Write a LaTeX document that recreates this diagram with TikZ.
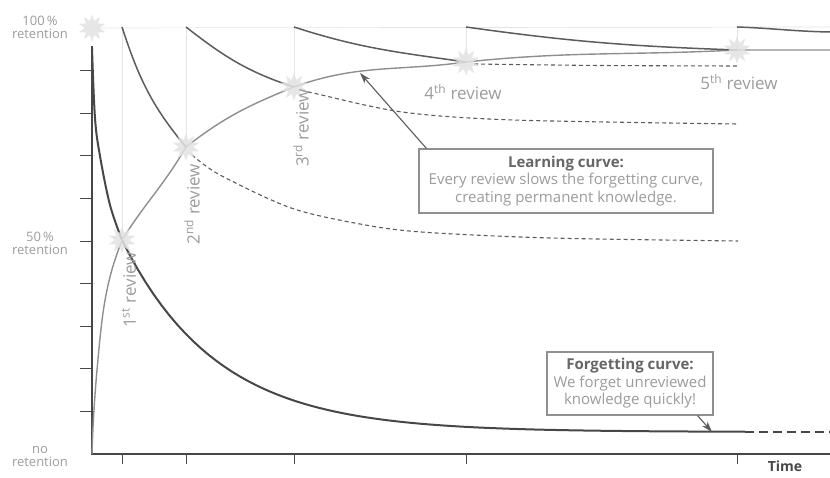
\documentclass[tikz,border=0pt]{standalone}
\usepackage{fontspec}
\setmainfont{Open Sans}
\usetikzlibrary{arrows.meta,positioning,shapes.geometric}
\definecolor{forgetgray}{HTML}{474747}
\definecolor{decaygray}{HTML}{5C5C5C}
\definecolor{learngray}{HTML}{8E8E8E}
\definecolor{guidegray}{HTML}{E4E4E4}
\definecolor{glowgray}{HTML}{E2E2E2}
\definecolor{labelgray}{HTML}{9C9C9C}
\definecolor{titlegray}{HTML}{666666}
\definecolor{boxgray}{HTML}{909090}

\begin{document}
\begin{tikzpicture}[
    x=1pt, y=1pt,
    >={Stealth[length=11pt, width=7pt]},
    glow/.style={star, star points=10, star point ratio=1.9, minimum size=28pt, inner sep=0pt, fill=glowgray, opacity=0.85},
    axis/.style={draw=forgetgray, line width=1.2pt},
    tick/.style={draw=forgetgray, line width=0.8pt},
    guide/.style={draw=guidegray, line width=0.7pt},
    forget/.style={draw=forgetgray, line width=2pt},
    decay/.style={draw=decaygray, line width=1.5pt},
    learn/.style={draw=learngray, line width=1.4pt},
    unreviewed/.style={draw=decaygray, line width=1.1pt, dash pattern=on 4pt off 3pt},
    review/.style={font=\fontsize{17}{17}\selectfont, text=labelgray, inner sep=1pt},
    level/.style={font=\fontsize{13}{13}\selectfont, text=labelgray, align=center, inner sep=0pt},
    callout/.style={draw=boxgray, line width=1.1pt, fill=white, align=center, inner sep=3pt, font=\fontsize{15}{17.5}\selectfont, text=labelgray},
    pointer/.style={->, draw=decaygray, line width=1.1pt}
]

\useasboundingbox (0,0) rectangle (830,478);

% ---- Review points ----
\coordinate (origin) at (92,24);
\coordinate (ytop) at (92,432);
\coordinate (xend) at (830,24);
\coordinate (full) at (92,450);
\coordinate (fullend) at (830,451);
\coordinate (r1) at (122,238);
\coordinate (r2) at (186,331);
\coordinate (r3) at (294,391);
\coordinate (r4) at (466,416);
\coordinate (r5) at (737,428);
\coordinate (lend) at (830,428);
\foreach \r in {1,...,5} \coordinate (t\r) at (r\r |- fullend);
\coordinate (tend) at (830,446);

% ---- Guides ----
\draw[guide] (full) -- (fullend);
\foreach \r in {1,...,5} \draw[guide] (r\r) -- (t\r);

% ---- Axes ----
\draw[axis] (ytop) -- (origin) -- (xend);
\foreach \k in {1,...,9} \draw[tick] (80,24+42.6*\k) -- (92,24+42.6*\k);
\foreach \r in {1,...,5} \draw[tick] (r\r |- origin) -- ++(0,-10);

% ---- Forgetting curve ----
\coordinate (fend) at (745,46);
\coordinate (fdash) at (830,46);
\draw[forget] plot[smooth, tension=0.6] coordinates {(92,430) (95,360) (100,322) (110,273) (122,238)};
\draw[forget] plot[domain=122:745, samples=80] (\x, {46+192*exp(-(\x-122)/95)});
\draw[forget, dash pattern=on 9pt off 5pt] (fend) -- (fdash);

% ---- Learning curve ----
\draw[learn] plot[smooth, tension=0.6] coordinates {(92,24) (93.5,60) (97,108) (103,165) (111,205) (122,238)};
\draw[learn] (r1) to[out=58,in=-120] (r2) to[out=38,in=-158] (r3) to[out=20,in=-172] (r4) to[out=6,in=-177] (r5) -- (lend);

% ---- Decay after each review ----
\draw[decay] (t1) to[out=-72,in=130] (r2);
\draw[decay] (t2) to[out=-38,in=162] (r3);
\draw[decay] (t3) to[out=-18,in=172] (r4);
\draw[decay] (t4) to[out=-8,in=178] (r5);
\draw[decay] (t5) to[out=-2,in=179] (tend);

% ---- Without further review ----
\draw[unreviewed] plot[smooth] coordinates {(192,323) (220,303) (291,270) (360,254) (421,246) (550,240) (738,237)};
\draw[unreviewed] plot[smooth] coordinates {(301,388) (313,385) (402,366) (513,358) (738,354)};
\draw[unreviewed] plot[smooth] coordinates {(474,414) (600,412.5) (738,412)};

% ---- Glows ----
\node[glow] (g0) at (full) {};
\foreach \r in {1,...,5} \node[glow] (g\r) at (r\r) {};

% ---- Labels ----
\node[level] (hundred) at (40,451) {100\,\%\\retention};
\node[level] (fifty) at (40,235) {50\,\%\\retention};
\node[level] (zero) at (40,21) {no\\retention};
\node[font=\fontsize{14}{14}\selectfont\bfseries, text=forgetgray] (time) at (785,12) {Time};
\node[review, rotate=90] (l1) at (129,188) {1\textsuperscript{st} review};
\node[review, rotate=90] (l2) at (192,274) {2\textsuperscript{nd} review};
\node[review, rotate=90] (l3) at (301,350) {3\textsuperscript{rd} review};
\node[review] (l4) at (463,386) {4\textsuperscript{th} review};
\node[review] (l5) at (739,396) {5\textsuperscript{th} review};

% ---- Callouts ----
\node[callout, minimum width=294pt, minimum height=64pt] (learnbox) at (566,297) {{\color{titlegray}\bfseries Learning curve:}\\Every review slows the forgetting curve,\\creating permanent knowledge.};
\coordinate (lhit) at (360,405);
\draw[pointer] ([xshift=8pt]learnbox.north west) -- (lhit);

\node[callout, minimum width=166pt, minimum height=63pt] (forgetbox) at (630,94.5) {{\color{titlegray}\bfseries Forgetting curve:}\\We forget unreviewed\\knowledge quickly!};
\coordinate (fhit) at (712,46);
\draw[pointer] ([xshift=-16pt]forgetbox.south east) -- (fhit);

\end{tikzpicture}
\end{document}
